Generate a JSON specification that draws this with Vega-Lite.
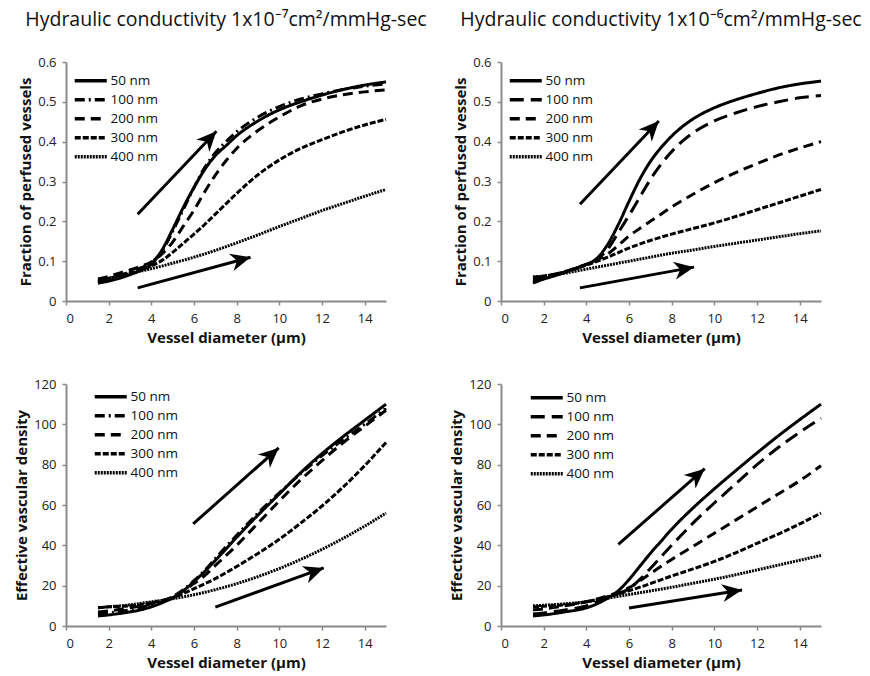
{
  "$schema": "https://vega.github.io/schema/vega-lite/v6.json",
  "padding": {"left": 14, "top": 9, "right": 5, "bottom": 5},
  "autosize": {"type": "pad"},
  "background": "white",
  "datasets": {
    "tl": [
      {"s":"50 nm","d":1.5,"v":0.045},{"s":"50 nm","d":2,"v":0.05},{"s":"50 nm","d":2.5,"v":0.057},{"s":"50 nm","d":3,"v":0.066},{"s":"50 nm","d":3.5,"v":0.077},{"s":"50 nm","d":4,"v":0.092},{"s":"50 nm","d":4.5,"v":0.128},{"s":"50 nm","d":5,"v":0.18},{"s":"50 nm","d":5.5,"v":0.235},{"s":"50 nm","d":6,"v":0.285},{"s":"50 nm","d":6.5,"v":0.33},{"s":"50 nm","d":7,"v":0.365},{"s":"50 nm","d":7.5,"v":0.39},{"s":"50 nm","d":8,"v":0.415},{"s":"50 nm","d":9,"v":0.452},{"s":"50 nm","d":10,"v":0.48},{"s":"50 nm","d":11,"v":0.5},{"s":"50 nm","d":12,"v":0.517},{"s":"50 nm","d":13,"v":0.531},{"s":"50 nm","d":14,"v":0.542},{"s":"50 nm","d":15,"v":0.55},
      {"s":"100 nm","d":1.5,"v":0.05},{"s":"100 nm","d":2,"v":0.057},{"s":"100 nm","d":2.5,"v":0.064},{"s":"100 nm","d":3,"v":0.073},{"s":"100 nm","d":3.5,"v":0.083},{"s":"100 nm","d":4,"v":0.097},{"s":"100 nm","d":4.5,"v":0.125},{"s":"100 nm","d":5,"v":0.175},{"s":"100 nm","d":5.5,"v":0.23},{"s":"100 nm","d":6,"v":0.285},{"s":"100 nm","d":6.5,"v":0.335},{"s":"100 nm","d":7,"v":0.372},{"s":"100 nm","d":7.5,"v":0.4},{"s":"100 nm","d":8,"v":0.425},{"s":"100 nm","d":9,"v":0.462},{"s":"100 nm","d":10,"v":0.488},{"s":"100 nm","d":11,"v":0.507},{"s":"100 nm","d":12,"v":0.52},{"s":"100 nm","d":13,"v":0.531},{"s":"100 nm","d":14,"v":0.539},{"s":"100 nm","d":15,"v":0.545},
      {"s":"200 nm","d":1.5,"v":0.055},{"s":"200 nm","d":2,"v":0.062},{"s":"200 nm","d":2.5,"v":0.07},{"s":"200 nm","d":3,"v":0.078},{"s":"200 nm","d":3.5,"v":0.087},{"s":"200 nm","d":4,"v":0.098},{"s":"200 nm","d":4.5,"v":0.118},{"s":"200 nm","d":5,"v":0.148},{"s":"200 nm","d":5.5,"v":0.188},{"s":"200 nm","d":6,"v":0.228},{"s":"200 nm","d":6.5,"v":0.274},{"s":"200 nm","d":7,"v":0.316},{"s":"200 nm","d":7.5,"v":0.352},{"s":"200 nm","d":8,"v":0.383},{"s":"200 nm","d":9,"v":0.428},{"s":"200 nm","d":10,"v":0.462},{"s":"200 nm","d":11,"v":0.49},{"s":"200 nm","d":12,"v":0.507},{"s":"200 nm","d":13,"v":0.518},{"s":"200 nm","d":14,"v":0.525},{"s":"200 nm","d":15,"v":0.53},
      {"s":"300 nm","d":1.5,"v":0.05},{"s":"300 nm","d":2,"v":0.057},{"s":"300 nm","d":2.5,"v":0.064},{"s":"300 nm","d":3,"v":0.071},{"s":"300 nm","d":3.5,"v":0.078},{"s":"300 nm","d":4,"v":0.088},{"s":"300 nm","d":4.5,"v":0.102},{"s":"300 nm","d":5,"v":0.122},{"s":"300 nm","d":5.5,"v":0.145},{"s":"300 nm","d":6,"v":0.168},{"s":"300 nm","d":6.5,"v":0.192},{"s":"300 nm","d":7,"v":0.218},{"s":"300 nm","d":7.5,"v":0.244},{"s":"300 nm","d":8,"v":0.27},{"s":"300 nm","d":9,"v":0.317},{"s":"300 nm","d":10,"v":0.354},{"s":"300 nm","d":11,"v":0.383},{"s":"300 nm","d":12,"v":0.405},{"s":"300 nm","d":13,"v":0.425},{"s":"300 nm","d":14,"v":0.442},{"s":"300 nm","d":15,"v":0.456},
      {"s":"400 nm","d":1.5,"v":0.045},{"s":"400 nm","d":2,"v":0.055},{"s":"400 nm","d":2.5,"v":0.062},{"s":"400 nm","d":3,"v":0.069},{"s":"400 nm","d":3.5,"v":0.075},{"s":"400 nm","d":4,"v":0.081},{"s":"400 nm","d":5,"v":0.095},{"s":"400 nm","d":6,"v":0.11},{"s":"400 nm","d":7,"v":0.127},{"s":"400 nm","d":8,"v":0.146},{"s":"400 nm","d":9,"v":0.166},{"s":"400 nm","d":10,"v":0.187},{"s":"400 nm","d":11,"v":0.207},{"s":"400 nm","d":12,"v":0.227},{"s":"400 nm","d":13,"v":0.245},{"s":"400 nm","d":14,"v":0.263},{"s":"400 nm","d":15,"v":0.28}
    ],
    "tr": [
      {"s":"50 nm","d":1.5,"v":0.045},{"s":"50 nm","d":2,"v":0.055},{"s":"50 nm","d":2.5,"v":0.063},{"s":"50 nm","d":3,"v":0.072},{"s":"50 nm","d":3.5,"v":0.082},{"s":"50 nm","d":4,"v":0.092},{"s":"50 nm","d":4.5,"v":0.107},{"s":"50 nm","d":5,"v":0.142},{"s":"50 nm","d":5.5,"v":0.192},{"s":"50 nm","d":6,"v":0.25},{"s":"50 nm","d":6.5,"v":0.305},{"s":"50 nm","d":7,"v":0.35},{"s":"50 nm","d":7.5,"v":0.385},{"s":"50 nm","d":8,"v":0.414},{"s":"50 nm","d":9,"v":0.457},{"s":"50 nm","d":10,"v":0.485},{"s":"50 nm","d":11,"v":0.505},{"s":"50 nm","d":12,"v":0.521},{"s":"50 nm","d":13,"v":0.535},{"s":"50 nm","d":14,"v":0.545},{"s":"50 nm","d":15,"v":0.552},
      {"s":"100 nm","d":1.5,"v":0.05},{"s":"100 nm","d":2,"v":0.057},{"s":"100 nm","d":2.5,"v":0.065},{"s":"100 nm","d":3,"v":0.073},{"s":"100 nm","d":3.5,"v":0.082},{"s":"100 nm","d":4,"v":0.092},{"s":"100 nm","d":4.5,"v":0.105},{"s":"100 nm","d":5,"v":0.13},{"s":"100 nm","d":5.5,"v":0.172},{"s":"100 nm","d":6,"v":0.215},{"s":"100 nm","d":6.5,"v":0.26},{"s":"100 nm","d":7,"v":0.305},{"s":"100 nm","d":7.5,"v":0.343},{"s":"100 nm","d":8,"v":0.375},{"s":"100 nm","d":9,"v":0.422},{"s":"100 nm","d":10,"v":0.452},{"s":"100 nm","d":11,"v":0.472},{"s":"100 nm","d":12,"v":0.488},{"s":"100 nm","d":13,"v":0.5},{"s":"100 nm","d":14,"v":0.51},{"s":"100 nm","d":15,"v":0.516},
      {"s":"200 nm","d":1.5,"v":0.055},{"s":"200 nm","d":2,"v":0.06},{"s":"200 nm","d":2.5,"v":0.067},{"s":"200 nm","d":3,"v":0.074},{"s":"200 nm","d":3.5,"v":0.083},{"s":"200 nm","d":4,"v":0.092},{"s":"200 nm","d":4.5,"v":0.103},{"s":"200 nm","d":5,"v":0.118},{"s":"200 nm","d":5.5,"v":0.14},{"s":"200 nm","d":6,"v":0.163},{"s":"200 nm","d":6.5,"v":0.182},{"s":"200 nm","d":7,"v":0.2},{"s":"200 nm","d":7.5,"v":0.218},{"s":"200 nm","d":8,"v":0.236},{"s":"200 nm","d":9,"v":0.268},{"s":"200 nm","d":10,"v":0.297},{"s":"200 nm","d":11,"v":0.322},{"s":"200 nm","d":12,"v":0.345},{"s":"200 nm","d":13,"v":0.366},{"s":"200 nm","d":14,"v":0.384},{"s":"200 nm","d":15,"v":0.4},
      {"s":"300 nm","d":1.5,"v":0.06},{"s":"300 nm","d":2,"v":0.062},{"s":"300 nm","d":2.5,"v":0.067},{"s":"300 nm","d":3,"v":0.073},{"s":"300 nm","d":3.5,"v":0.081},{"s":"300 nm","d":4,"v":0.09},{"s":"300 nm","d":5,"v":0.11},{"s":"300 nm","d":6,"v":0.133},{"s":"300 nm","d":7,"v":0.152},{"s":"300 nm","d":8,"v":0.168},{"s":"300 nm","d":9,"v":0.182},{"s":"300 nm","d":10,"v":0.196},{"s":"300 nm","d":11,"v":0.212},{"s":"300 nm","d":12,"v":0.229},{"s":"300 nm","d":13,"v":0.246},{"s":"300 nm","d":14,"v":0.263},{"s":"300 nm","d":15,"v":0.28},
      {"s":"400 nm","d":1.5,"v":0.06},{"s":"400 nm","d":2,"v":0.063},{"s":"400 nm","d":3,"v":0.07},{"s":"400 nm","d":4,"v":0.08},{"s":"400 nm","d":5,"v":0.09},{"s":"400 nm","d":6,"v":0.1},{"s":"400 nm","d":7,"v":0.11},{"s":"400 nm","d":8,"v":0.12},{"s":"400 nm","d":9,"v":0.128},{"s":"400 nm","d":10,"v":0.137},{"s":"400 nm","d":11,"v":0.145},{"s":"400 nm","d":12,"v":0.153},{"s":"400 nm","d":13,"v":0.161},{"s":"400 nm","d":14,"v":0.169},{"s":"400 nm","d":15,"v":0.176}
    ],
    "bl": [
      {"s":"50 nm","d":1.5,"v":5},{"s":"50 nm","d":2,"v":5.5},{"s":"50 nm","d":2.5,"v":6.2},{"s":"50 nm","d":3,"v":7},{"s":"50 nm","d":3.5,"v":8},{"s":"50 nm","d":4,"v":9.5},{"s":"50 nm","d":4.5,"v":11.5},{"s":"50 nm","d":5,"v":14},{"s":"50 nm","d":5.5,"v":17.5},{"s":"50 nm","d":6,"v":22},{"s":"50 nm","d":6.5,"v":27},{"s":"50 nm","d":7,"v":32.5},{"s":"50 nm","d":8,"v":44},{"s":"50 nm","d":9,"v":55},{"s":"50 nm","d":10,"v":65.5},{"s":"50 nm","d":11,"v":76},{"s":"50 nm","d":12,"v":85.5},{"s":"50 nm","d":13,"v":94},{"s":"50 nm","d":14,"v":102},{"s":"50 nm","d":15,"v":110},
      {"s":"100 nm","d":1.5,"v":6},{"s":"100 nm","d":2,"v":6.5},{"s":"100 nm","d":3,"v":8},{"s":"100 nm","d":4,"v":10.5},{"s":"100 nm","d":4.5,"v":12},{"s":"100 nm","d":5,"v":14.5},{"s":"100 nm","d":5.5,"v":18},{"s":"100 nm","d":6,"v":22.5},{"s":"100 nm","d":6.5,"v":27.5},{"s":"100 nm","d":7,"v":33.5},{"s":"100 nm","d":8,"v":45},{"s":"100 nm","d":9,"v":56},{"s":"100 nm","d":10,"v":66},{"s":"100 nm","d":11,"v":75.5},{"s":"100 nm","d":12,"v":84.5},{"s":"100 nm","d":13,"v":92.5},{"s":"100 nm","d":14,"v":100},{"s":"100 nm","d":15,"v":108},
      {"s":"200 nm","d":1.5,"v":7},{"s":"200 nm","d":2,"v":7.5},{"s":"200 nm","d":3,"v":9},{"s":"200 nm","d":4,"v":11},{"s":"200 nm","d":4.5,"v":12.5},{"s":"200 nm","d":5,"v":14.5},{"s":"200 nm","d":5.5,"v":17.5},{"s":"200 nm","d":6,"v":21},{"s":"200 nm","d":6.5,"v":25},{"s":"200 nm","d":7,"v":30},{"s":"200 nm","d":8,"v":40},{"s":"200 nm","d":9,"v":51},{"s":"200 nm","d":10,"v":62},{"s":"200 nm","d":11,"v":72.5},{"s":"200 nm","d":12,"v":82},{"s":"200 nm","d":13,"v":91},{"s":"200 nm","d":14,"v":99},{"s":"200 nm","d":15,"v":107},
      {"s":"300 nm","d":1.5,"v":9},{"s":"300 nm","d":2,"v":9.5},{"s":"300 nm","d":3,"v":10},{"s":"300 nm","d":4,"v":11.5},{"s":"300 nm","d":5,"v":14},{"s":"300 nm","d":6,"v":18.5},{"s":"300 nm","d":7,"v":23.5},{"s":"300 nm","d":8,"v":29.5},{"s":"300 nm","d":9,"v":36},{"s":"300 nm","d":10,"v":43},{"s":"300 nm","d":11,"v":51},{"s":"300 nm","d":12,"v":59.5},{"s":"300 nm","d":13,"v":69},{"s":"300 nm","d":14,"v":79.5},{"s":"300 nm","d":15,"v":91},
      {"s":"400 nm","d":1.5,"v":9},{"s":"400 nm","d":2,"v":9.5},{"s":"400 nm","d":3,"v":10.5},{"s":"400 nm","d":4,"v":12},{"s":"400 nm","d":5,"v":13.5},{"s":"400 nm","d":6,"v":15.5},{"s":"400 nm","d":7,"v":18},{"s":"400 nm","d":8,"v":21},{"s":"400 nm","d":9,"v":24.5},{"s":"400 nm","d":10,"v":28.5},{"s":"400 nm","d":11,"v":33},{"s":"400 nm","d":12,"v":38},{"s":"400 nm","d":13,"v":43.5},{"s":"400 nm","d":14,"v":49.5},{"s":"400 nm","d":15,"v":56}
    ],
    "br": [
      {"s":"50 nm","d":1.5,"v":5},{"s":"50 nm","d":2,"v":5.5},{"s":"50 nm","d":3,"v":7},{"s":"50 nm","d":4,"v":9},{"s":"50 nm","d":4.5,"v":11},{"s":"50 nm","d":5,"v":13.8},{"s":"50 nm","d":5.5,"v":17.5},{"s":"50 nm","d":6,"v":23},{"s":"50 nm","d":6.5,"v":29.5},{"s":"50 nm","d":7,"v":36},{"s":"50 nm","d":7.5,"v":42},{"s":"50 nm","d":8,"v":48},{"s":"50 nm","d":9,"v":58.5},{"s":"50 nm","d":10,"v":68},{"s":"50 nm","d":11,"v":77},{"s":"50 nm","d":12,"v":85.8},{"s":"50 nm","d":13,"v":94.3},{"s":"50 nm","d":14,"v":102.3},{"s":"50 nm","d":15,"v":110},
      {"s":"100 nm","d":1.5,"v":6},{"s":"100 nm","d":2,"v":6.5},{"s":"100 nm","d":3,"v":8},{"s":"100 nm","d":4,"v":10},{"s":"100 nm","d":4.5,"v":12},{"s":"100 nm","d":5,"v":14},{"s":"100 nm","d":5.5,"v":16},{"s":"100 nm","d":6,"v":18.5},{"s":"100 nm","d":6.5,"v":23},{"s":"100 nm","d":7,"v":28.5},{"s":"100 nm","d":8,"v":40},{"s":"100 nm","d":9,"v":51},{"s":"100 nm","d":10,"v":61},{"s":"100 nm","d":11,"v":70.5},{"s":"100 nm","d":12,"v":80},{"s":"100 nm","d":13,"v":88.5},{"s":"100 nm","d":14,"v":96},{"s":"100 nm","d":15,"v":103},
      {"s":"200 nm","d":1.5,"v":8},{"s":"200 nm","d":2,"v":8.5},{"s":"200 nm","d":3,"v":10},{"s":"200 nm","d":4,"v":12},{"s":"200 nm","d":5,"v":15},{"s":"200 nm","d":6,"v":19},{"s":"200 nm","d":7,"v":26},{"s":"200 nm","d":8,"v":33},{"s":"200 nm","d":9,"v":39.5},{"s":"200 nm","d":10,"v":46},{"s":"200 nm","d":11,"v":52.5},{"s":"200 nm","d":12,"v":59},{"s":"200 nm","d":13,"v":65.5},{"s":"200 nm","d":14,"v":72},{"s":"200 nm","d":15,"v":79.5},
      {"s":"300 nm","d":1.5,"v":9.5},{"s":"300 nm","d":2,"v":9.8},{"s":"300 nm","d":3,"v":10.5},{"s":"300 nm","d":4,"v":12},{"s":"300 nm","d":5,"v":14.5},{"s":"300 nm","d":6,"v":17.5},{"s":"300 nm","d":7,"v":21},{"s":"300 nm","d":8,"v":24.8},{"s":"300 nm","d":9,"v":28.3},{"s":"300 nm","d":10,"v":32},{"s":"300 nm","d":11,"v":36.3},{"s":"300 nm","d":12,"v":41},{"s":"300 nm","d":13,"v":45.6},{"s":"300 nm","d":14,"v":50.6},{"s":"300 nm","d":15,"v":56},
      {"s":"400 nm","d":1.5,"v":10},{"s":"400 nm","d":2,"v":10.3},{"s":"400 nm","d":3,"v":11},{"s":"400 nm","d":4,"v":12},{"s":"400 nm","d":5,"v":13.8},{"s":"400 nm","d":6,"v":15.6},{"s":"400 nm","d":7,"v":17.4},{"s":"400 nm","d":8,"v":19.2},{"s":"400 nm","d":9,"v":21.2},{"s":"400 nm","d":10,"v":23.2},{"s":"400 nm","d":11,"v":25.4},{"s":"400 nm","d":12,"v":27.8},{"s":"400 nm","d":13,"v":30.2},{"s":"400 nm","d":14,"v":32.6},{"s":"400 nm","d":15,"v":35}
    ],
    "arrows": [
      {"p":"tl","a":1,"x0":3.36,"y0":0.218,"x1":7.05,"y1":0.426},
      {"p":"tl","a":2,"x0":3.36,"y0":0.033,"x1":8.65,"y1":0.11},
      {"p":"tr","a":1,"x0":3.7,"y0":0.243,"x1":7.4,"y1":0.452},
      {"p":"tr","a":2,"x0":3.7,"y0":0.033,"x1":9.05,"y1":0.085},
      {"p":"bl","a":1,"x0":5.96,"y0":50.6,"x1":9.97,"y1":88.3},
      {"p":"bl","a":2,"x0":7.0,"y0":9.4,"x1":12.08,"y1":28.8},
      {"p":"br","a":1,"x0":5.5,"y0":40.5,"x1":9.55,"y1":78},
      {"p":"br","a":2,"x0":6.0,"y0":8.9,"x1":11.3,"y1":17.8}
    ]
  },
  "columns": 2,
  "bounds": "flush",
  "spacing": {"row": 83, "column": 115},
  "resolve": {"scale": {"strokeDash": "independent"}, "legend": {"strokeDash": "independent"}},
  "concat": [
    {
      "width": 320, "height": 239,
      "title": {"text": "Hydraulic conductivity 1x10⁻⁷cm²/mmHg-sec"},
      "layer": [
        {"data": {"name": "tl"}, "mark": {"type": "line", "color": "black", "strokeWidth": 3, "interpolate": "monotone"},
         "encoding": {
           "x": {"field": "d", "type": "quantitative", "title": "Vessel diameter (µm)", "scale": {"domain": [0, 15], "nice": false}, "axis": {"values": [0,2,4,6,8,10,12,14], "labelOverlap": false}},
           "y": {"field": "v", "type": "quantitative", "title": "Fraction of perfused vessels", "scale": {"domain": [0, 0.6], "nice": false}, "axis": {"values": [0,0.1,0.2,0.3,0.4,0.5,0.6], "labelOverlap": false, "format": ".1~f"}},
           "strokeDash": {"field": "s", "type": "nominal", "sort": ["50 nm","100 nm","200 nm","300 nm","400 nm"], "scale": {"domain": ["50 nm","100 nm","200 nm","300 nm","400 nm"], "range": [[1,0],[10,4,2,4],[10,6],[6,2],[2,1]]}, "legend": {"title": null, "orient": "none", "legendX": 6, "legendY": 12}}
         }},
        {"data": {"name": "arrows"}, "transform": [{"filter": "datum.p == 'tl'"}], "mark": {"type": "rule", "color": "black", "strokeWidth": 3},
         "encoding": {"x": {"field": "x0", "type": "quantitative", "title": "Vessel diameter (µm)", "axis": {"values": [0,2,4,6,8,10,12,14], "labelOverlap": false}}, "y": {"field": "y0", "type": "quantitative", "title": "Fraction of perfused vessels", "axis": {"values": [0,0.1,0.2,0.3,0.4,0.5,0.6], "labelOverlap": false, "format": ".1~f"}}, "x2": {"field": "x1"}, "y2": {"field": "y1"}}},
        {"data": {"name": "arrows"}, "transform": [{"filter": "datum.p == 'tl' && datum.a == 1"}], "mark": {"type": "point", "shape": "M0,0L-2,-0.9L-1.4,0L-2,0.9Z", "filled": true, "color": "black", "opacity": 1, "size": 400, "angle": -47},
         "encoding": {"x": {"field": "x1", "type": "quantitative", "title": "Vessel diameter (µm)", "axis": {"values": [0,2,4,6,8,10,12,14], "labelOverlap": false}}, "y": {"field": "y1", "type": "quantitative", "title": "Fraction of perfused vessels", "axis": {"values": [0,0.1,0.2,0.3,0.4,0.5,0.6], "labelOverlap": false, "format": ".1~f"}}}},
        {"data": {"name": "arrows"}, "transform": [{"filter": "datum.p == 'tl' && datum.a == 2"}], "mark": {"type": "point", "shape": "M0,0L-2,-0.9L-1.4,0L-2,0.9Z", "filled": true, "color": "black", "opacity": 1, "size": 400, "angle": -15},
         "encoding": {"x": {"field": "x1", "type": "quantitative", "title": "Vessel diameter (µm)", "axis": {"values": [0,2,4,6,8,10,12,14], "labelOverlap": false}}, "y": {"field": "y1", "type": "quantitative", "title": "Fraction of perfused vessels", "axis": {"values": [0,0.1,0.2,0.3,0.4,0.5,0.6], "labelOverlap": false, "format": ".1~f"}}}}
      ]
    },
    {
      "width": 320, "height": 239,
      "title": {"text": "Hydraulic conductivity 1x10⁻⁶cm²/mmHg-sec"},
      "layer": [
        {"data": {"name": "tr"}, "mark": {"type": "line", "color": "black", "strokeWidth": 3, "interpolate": "monotone"},
         "encoding": {
           "x": {"field": "d", "type": "quantitative", "title": "Vessel diameter (µm)", "scale": {"domain": [0, 15], "nice": false}, "axis": {"values": [0,2,4,6,8,10,12,14], "labelOverlap": false}},
           "y": {"field": "v", "type": "quantitative", "title": "Fraction of perfused vessels", "scale": {"domain": [0, 0.6], "nice": false}, "axis": {"values": [0,0.1,0.2,0.3,0.4,0.5,0.6], "labelOverlap": false, "format": ".1~f"}},
           "strokeDash": {"field": "s", "type": "nominal", "sort": ["50 nm","100 nm","200 nm","300 nm","400 nm"], "scale": {"domain": ["50 nm","100 nm","200 nm","300 nm","400 nm"], "range": [[1,0],[14,7],[10,6],[6,2],[2,1]]}, "legend": {"title": null, "orient": "none", "legendX": 6, "legendY": 12}}
         }},
        {"data": {"name": "arrows"}, "transform": [{"filter": "datum.p == 'tr'"}], "mark": {"type": "rule", "color": "black", "strokeWidth": 3},
         "encoding": {"x": {"field": "x0", "type": "quantitative", "title": "Vessel diameter (µm)", "axis": {"values": [0,2,4,6,8,10,12,14], "labelOverlap": false}}, "y": {"field": "y0", "type": "quantitative", "title": "Fraction of perfused vessels", "axis": {"values": [0,0.1,0.2,0.3,0.4,0.5,0.6], "labelOverlap": false, "format": ".1~f"}}, "x2": {"field": "x1"}, "y2": {"field": "y1"}}},
        {"data": {"name": "arrows"}, "transform": [{"filter": "datum.p == 'tr' && datum.a == 1"}], "mark": {"type": "point", "shape": "M0,0L-2,-0.9L-1.4,0L-2,0.9Z", "filled": true, "color": "black", "opacity": 1, "size": 400, "angle": -47},
         "encoding": {"x": {"field": "x1", "type": "quantitative", "title": "Vessel diameter (µm)", "axis": {"values": [0,2,4,6,8,10,12,14], "labelOverlap": false}}, "y": {"field": "y1", "type": "quantitative", "title": "Fraction of perfused vessels", "axis": {"values": [0,0.1,0.2,0.3,0.4,0.5,0.6], "labelOverlap": false, "format": ".1~f"}}}},
        {"data": {"name": "arrows"}, "transform": [{"filter": "datum.p == 'tr' && datum.a == 2"}], "mark": {"type": "point", "shape": "M0,0L-2,-0.9L-1.4,0L-2,0.9Z", "filled": true, "color": "black", "opacity": 1, "size": 400, "angle": -10},
         "encoding": {"x": {"field": "x1", "type": "quantitative", "title": "Vessel diameter (µm)", "axis": {"values": [0,2,4,6,8,10,12,14], "labelOverlap": false}}, "y": {"field": "y1", "type": "quantitative", "title": "Fraction of perfused vessels", "axis": {"values": [0,0.1,0.2,0.3,0.4,0.5,0.6], "labelOverlap": false, "format": ".1~f"}}}}
      ]
    },
    {
      "width": 320, "height": 242,
      "layer": [
        {"data": {"name": "bl"}, "mark": {"type": "line", "color": "black", "strokeWidth": 3, "interpolate": "monotone"},
         "encoding": {
           "x": {"field": "d", "type": "quantitative", "title": "Vessel diameter (µm)", "scale": {"domain": [0, 15], "nice": false}, "axis": {"values": [0,2,4,6,8,10,12,14], "labelOverlap": false}},
           "y": {"field": "v", "type": "quantitative", "title": "Effective vascular density", "scale": {"domain": [0, 120], "nice": false}, "axis": {"values": [0,20,40,60,80,100,120], "labelOverlap": false}},
           "strokeDash": {"field": "s", "type": "nominal", "sort": ["50 nm","100 nm","200 nm","300 nm","400 nm"], "scale": {"domain": ["50 nm","100 nm","200 nm","300 nm","400 nm"], "range": [[1,0],[10,4,2,4],[10,6],[6,2],[2,1]]}, "legend": {"title": null, "orient": "none", "legendX": 26, "legendY": 6}}
         }},
        {"data": {"name": "arrows"}, "transform": [{"filter": "datum.p == 'bl'"}], "mark": {"type": "rule", "color": "black", "strokeWidth": 3},
         "encoding": {"x": {"field": "x0", "type": "quantitative", "title": "Vessel diameter (µm)", "axis": {"values": [0,2,4,6,8,10,12,14], "labelOverlap": false}}, "y": {"field": "y0", "type": "quantitative", "title": "Effective vascular density", "axis": {"values": [0,20,40,60,80,100,120], "labelOverlap": false}}, "x2": {"field": "x1"}, "y2": {"field": "y1"}}},
        {"data": {"name": "arrows"}, "transform": [{"filter": "datum.p == 'bl' && datum.a == 1"}], "mark": {"type": "point", "shape": "M0,0L-2,-0.9L-1.4,0L-2,0.9Z", "filled": true, "color": "black", "opacity": 1, "size": 400, "angle": -42},
         "encoding": {"x": {"field": "x1", "type": "quantitative", "title": "Vessel diameter (µm)", "axis": {"values": [0,2,4,6,8,10,12,14], "labelOverlap": false}}, "y": {"field": "y1", "type": "quantitative", "title": "Effective vascular density", "axis": {"values": [0,20,40,60,80,100,120], "labelOverlap": false}}}},
        {"data": {"name": "arrows"}, "transform": [{"filter": "datum.p == 'bl' && datum.a == 2"}], "mark": {"type": "point", "shape": "M0,0L-2,-0.9L-1.4,0L-2,0.9Z", "filled": true, "color": "black", "opacity": 1, "size": 400, "angle": -20},
         "encoding": {"x": {"field": "x1", "type": "quantitative", "title": "Vessel diameter (µm)", "axis": {"values": [0,2,4,6,8,10,12,14], "labelOverlap": false}}, "y": {"field": "y1", "type": "quantitative", "title": "Effective vascular density", "axis": {"values": [0,20,40,60,80,100,120], "labelOverlap": false}}}}
      ]
    },
    {
      "width": 320, "height": 242,
      "layer": [
        {"data": {"name": "br"}, "mark": {"type": "line", "color": "black", "strokeWidth": 3, "interpolate": "monotone"},
         "encoding": {
           "x": {"field": "d", "type": "quantitative", "title": "Vessel diameter (µm)", "scale": {"domain": [0, 15], "nice": false}, "axis": {"values": [0,2,4,6,8,10,12,14], "labelOverlap": false}},
           "y": {"field": "v", "type": "quantitative", "title": "Effective vascular density", "scale": {"domain": [0, 120], "nice": false}, "axis": {"values": [0,20,40,60,80,100,120], "labelOverlap": false}},
           "strokeDash": {"field": "s", "type": "nominal", "sort": ["50 nm","100 nm","200 nm","300 nm","400 nm"], "scale": {"domain": ["50 nm","100 nm","200 nm","300 nm","400 nm"], "range": [[1,0],[14,7],[10,6],[6,2],[2,1]]}, "legend": {"title": null, "orient": "none", "legendX": 27, "legendY": 7}}
         }},
        {"data": {"name": "arrows"}, "transform": [{"filter": "datum.p == 'br'"}], "mark": {"type": "rule", "color": "black", "strokeWidth": 3},
         "encoding": {"x": {"field": "x0", "type": "quantitative", "title": "Vessel diameter (µm)", "axis": {"values": [0,2,4,6,8,10,12,14], "labelOverlap": false}}, "y": {"field": "y0", "type": "quantitative", "title": "Effective vascular density", "axis": {"values": [0,20,40,60,80,100,120], "labelOverlap": false}}, "x2": {"field": "x1"}, "y2": {"field": "y1"}}},
        {"data": {"name": "arrows"}, "transform": [{"filter": "datum.p == 'br' && datum.a == 1"}], "mark": {"type": "point", "shape": "M0,0L-2,-0.9L-1.4,0L-2,0.9Z", "filled": true, "color": "black", "opacity": 1, "size": 400, "angle": -41},
         "encoding": {"x": {"field": "x1", "type": "quantitative", "title": "Vessel diameter (µm)", "axis": {"values": [0,2,4,6,8,10,12,14], "labelOverlap": false}}, "y": {"field": "y1", "type": "quantitative", "title": "Effective vascular density", "axis": {"values": [0,20,40,60,80,100,120], "labelOverlap": false}}}},
        {"data": {"name": "arrows"}, "transform": [{"filter": "datum.p == 'br' && datum.a == 2"}], "mark": {"type": "point", "shape": "M0,0L-2,-0.9L-1.4,0L-2,0.9Z", "filled": true, "color": "black", "opacity": 1, "size": 400, "angle": -9},
         "encoding": {"x": {"field": "x1", "type": "quantitative", "title": "Vessel diameter (µm)", "axis": {"values": [0,2,4,6,8,10,12,14], "labelOverlap": false}}, "y": {"field": "y1", "type": "quantitative", "title": "Effective vascular density", "axis": {"values": [0,20,40,60,80,100,120], "labelOverlap": false}}}}
      ]
    }
  ],
  "config": {
    "font": "Open Sans",
    "view": {"stroke": null},
    "title": {"fontSize": 19.5, "fontWeight": "normal", "font": "Open Sans", "color": "#111", "offset": 26, "anchor": "middle"},
    "axis": {"grid": false, "labelOverlap": false, "domainColor": "#8a8a8a", "domainWidth": 2, "tickColor": "#8a8a8a", "tickWidth": 1.5, "tickSize": 4, "labelFont": "Open Sans", "labelFontSize": 13, "labelColor": "#222", "labelPadding": 6, "titleFont": "Open Sans", "titleFontSize": 15, "titleFontWeight": "bold", "titleColor": "#111", "titlePadding": 4},
    "axisX": {"labelPadding": 7, "titlePadding": 5},
    "legend": {"symbolType": "M-1,0H7", "symbolSize": 64, "symbolStrokeWidth": 3.5, "symbolStrokeColor": "black", "symbolFillColor": "transparent", "labelFont": "Open Sans", "labelFontSize": 13.5, "labelColor": "#111", "labelOffset": 25, "rowPadding": 4, "padding": 0}
  }
}
